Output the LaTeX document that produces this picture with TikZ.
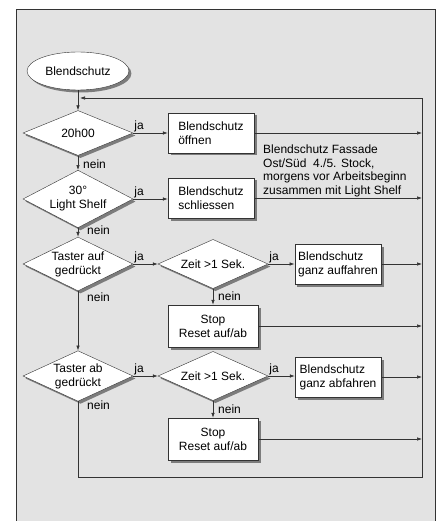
\documentclass[tikz,border=0pt]{standalone}
\usepackage{fontspec}
\setmainfont{Liberation Sans}
\usepackage{tikz}
\usetikzlibrary{shapes.geometric,shadows,arrows.meta}

\tikzset{
    flow/.style={draw=black!80, line width=0.6pt},
    arr/.style={flow, -{Latex[length=5pt,width=3.5pt]}},
    shade/.style={drop shadow={shadow xshift=2.5pt, shadow yshift=-2.5pt, fill=black, opacity=.45}},
    startnode/.style={ellipse, draw=black!80, fill=white, minimum width=95pt, minimum height=38pt, shade},
    testnode/.style={diamond, draw=black!80, fill=white, minimum width=110pt, minimum height=45pt, inner sep=-6pt, align=center, shade},
    actnode/.style={rectangle, draw=black!80, fill=white, minimum width=86pt, minimum height=40pt, align=left, shade},
    stopnode/.style={actnode, minimum width=90pt, minimum height=42pt, align=center},
    tag/.style={inner sep=1pt}
}

\begin{document}
\begin{tikzpicture}[x=1pt, y=-1pt, font=\fontsize{12}{14}\selectfont]
    \useasboundingbox (0,0) rectangle (440,521);
    \fill[black!11] (16,9) rectangle (435,530);
    \draw[black!80, line width=0.8pt] (16,530) -- (16,9) -- (435,9) -- (435,530);

    \node[startnode] (start) at (78,71) {Blendschutz};
    \node[testnode] (q20) at (78,133) {20h00};
    \node[testnode] (qshelf) at (78,199) {30°\\Light Shelf};
    \node[testnode] (qauf) at (78,264) {Taster auf\\gedrückt};
    \node[testnode] (qab) at (78,376) {Taster ab\\gedrückt};
    \node[testnode] (zauf) at (213,264) {Zeit >1 Sek.};
    \node[testnode] (zab) at (213,376) {Zeit >1 Sek.};

    \node[actnode] (open) at (211,133) {Blendschutz\\öffnen};
    \node[actnode] (close) at (211,198) {Blendschutz\\schliessen};
    \node[actnode] (up) at (338,264) {Blendschutz\\ganz auffahren};
    \node[actnode] (down) at (338,377) {Blendschutz\\ganz abfahren};
    \node[stopnode] (stopauf) at (213,326) {Stop\\Reset auf/ab};
    \node[stopnode] (stopab) at (213,439) {Stop\\Reset auf/ab};

    \node[anchor=north west, align=left, inner sep=0pt, font=\fontsize{12}{13.5}\selectfont] (note) at (263,145)
        {Blendschutz Fassade\\Ost/Süd\ \ 4./5. Stock,\\morgens vor Arbeitsbeginn\\zusammen mit Light Shelf};

    \coordinate (bus) at (422,98);
    \coordinate (bottom) at (78,477);

    \draw[arr] (start) -- (q20);
    \draw[arr] (q20) -- (qshelf);
    \draw[arr] (qshelf) -- (qauf);
    \draw[arr] (qauf) -- (qab);
    \draw[arr] (q20) -- (open);
    \draw[arr] (qshelf) -- (qshelf -| close.west);
    \draw[arr] (qauf) -- (zauf);
    \draw[arr] (qab) -- (zab);
    \draw[arr] (zauf) -- (up);
    \draw[arr] (zab) -- (zab -| down.west);
    \draw[arr] (zauf) -- (stopauf);
    \draw[arr] (zab) -- (stopab);

    \draw[arr] (open) -- (open -| bus);
    \draw[arr] (close) -- (close -| bus);
    \draw[arr] (up) -- (up -| bus);
    \draw[arr] (down) -- (down -| bus);
    \draw[arr] (stopauf) -- (stopauf -| bus);
    \draw[arr] (stopab) -- (stopab -| bus);
    \draw[arr] (qab) -- (bottom) -- (bottom -| bus) -- (bus) -- ([xshift=2pt]start |- bus);

    \node[tag, anchor=south west] (ja1) at (q20.east) {ja};
    \node[tag, anchor=south west] (ja2) at (qshelf.east) {ja};
    \node[tag, anchor=south west] (ja3) at (qauf.east) {ja};
    \node[tag, anchor=south west] (ja4) at (qab.east) {ja};
    \node[tag, anchor=south west] (ja5) at (zauf.east) {ja};
    \node[tag, anchor=south west] (ja6) at (zab.east) {ja};
    \node[tag, anchor=west] (nein1) at (82,164) {nein};
    \node[tag, anchor=west] (nein2) at (86,230) {nein};
    \node[tag, anchor=west] (nein3) at (86,297) {nein};
    \node[tag, anchor=west] (nein4) at (86,405) {nein};
    \node[tag, anchor=west] (nein5) at (217,296) {nein};
    \node[tag, anchor=west] (nein6) at (217,409) {nein};
\end{tikzpicture}
\end{document}
